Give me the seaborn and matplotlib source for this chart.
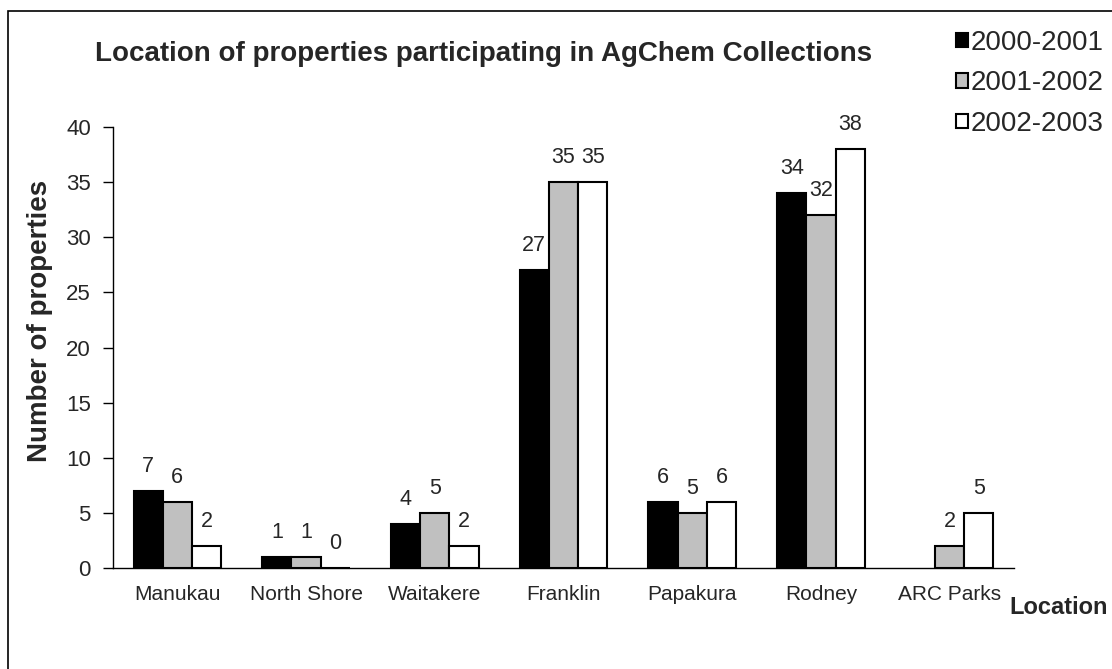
import numpy as np
import pandas as pd
import matplotlib
matplotlib.use("Agg")
import matplotlib.pyplot as plt
import matplotlib.ticker as mticker
from matplotlib.patches import Patch, Rectangle
import seaborn as sns

# ── data ───────────────────────────────────────────────────
locations = ["Manukau", "North Shore", "Waitakere", "Franklin",
             "Papakura", "Rodney", "ARC Parks"]
seasons = ["2000-2001", "2001-2002", "2002-2003"]
props_2000 = [7, 1, 4, 27, 6, 34, np.nan]
props_2001 = [6, 1, 5, 35, 5, 32, 2]
props_2002 = [2, 0, 2, 35, 6, 38, 5]

colors = ["#000000", "#C0C0C0", "#FFFFFF"]

df = pd.DataFrame({
    "Location": locations * 3,
    "Season": np.repeat(seasons, len(locations)),
    "Properties": props_2000 + props_2001 + props_2002,
})

sns.set_theme(style="white")
plt.rcParams["font.family"] = ["Liberation Sans", "DejaVu Sans"]

fig = plt.figure(figsize=(11.12, 6.69), dpi=100)
ax = fig.add_axes([113 / 1112, 1 - 568 / 669, (1014 - 113) / 1112, (568 - 127) / 669])

sns.barplot(data=df, x="Location", y="Properties", hue="Season",
            hue_order=seasons, order=locations, palette=colors,
            width=0.68, edgecolor="black", linewidth=1.5,
            errorbar=None, legend=False, ax=ax)

for cont in ax.containers:
    ax.bar_label(cont, fmt="%.0f", padding=10, fontsize=15.5)

ax.set_xlim(-0.5, len(locations) - 0.5)
ax.set_ylim(0, 40)
ax.yaxis.set_major_locator(mticker.MultipleLocator(5))
ax.xaxis.set_minor_locator(mticker.FixedLocator(np.arange(-0.5, len(locations), 1)))
ax.tick_params(axis="x", which="major", length=0, pad=12, labelsize=15)
ax.tick_params(axis="x", which="minor", length=6, width=1, color="black", direction="out")
ax.tick_params(axis="y", length=7, width=1, color="black", direction="out",
               pad=9, labelsize=16, left=True)
ax.set_xlabel("")
ax.set_ylabel("")
for s in ["top", "right"]:
    ax.spines[s].set_visible(False)
for s in ["left", "bottom"]:
    ax.spines[s].set_color("black")
    ax.spines[s].set_linewidth(1)

fig.text(0.435, 1 - 61 / 669, "Location of properties participating in AgChem Collections",
         ha="center", va="baseline", fontsize=20, fontweight="bold")
fig.text(0.036, 0.52, "Number of properties", rotation=90,
         ha="center", va="center", fontsize=20, fontweight="bold")
fig.text(1009 / 1112, 1 - 607 / 669, "Location", ha="left", va="center",
         fontsize=17, fontweight="bold")

handles = [Patch(facecolor=c, edgecolor="black", linewidth=1.5) for c in colors]
fig.legend(handles, seasons, loc="upper left", bbox_to_anchor=(956 / 1112, 1 - 30 / 669),
           frameon=False, fontsize=20, handlelength=0.42, handleheight=0.42,
           handletextpad=0.12, labelspacing=0.52, borderpad=0, borderaxespad=0)

# outer chart-area border
fig.patches.append(Rectangle((8 / 1112, -0.1), 1.2, 1.1 - 11 / 669,
                             transform=fig.transFigure, fill=False,
                             edgecolor="black", linewidth=1.2))

fig.savefig("out.png", dpi=100)
